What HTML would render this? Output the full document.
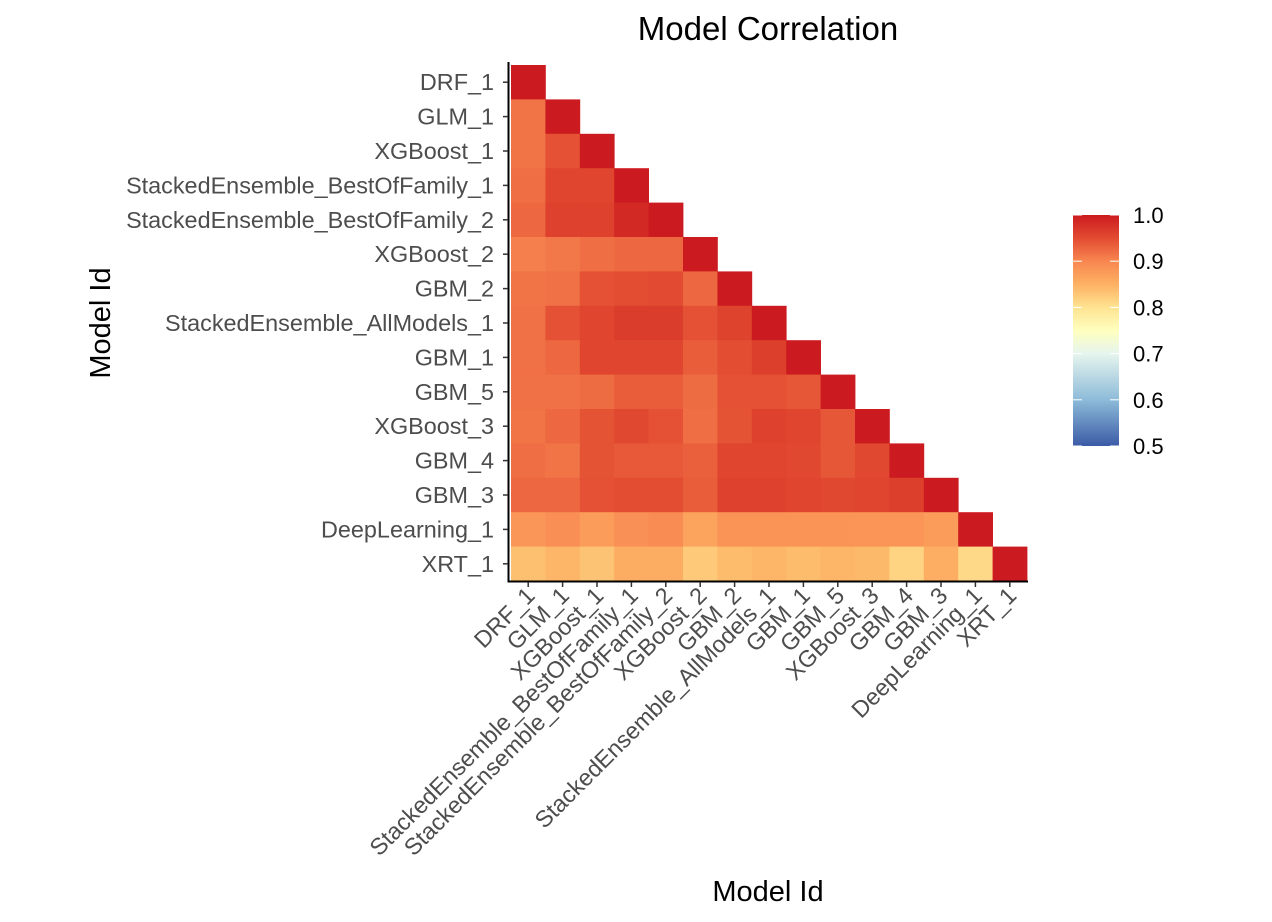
<!DOCTYPE html>
<html><head><meta charset="utf-8">
<style>
html,body{margin:0;padding:0;background:#fff;}
svg{display:block;font-family:"Liberation Sans",Arial,sans-serif;}
</style></head>
<body>
<svg id="chart" width="1272" height="922" viewBox="0 0 1272 922" xmlns="http://www.w3.org/2000/svg">
<defs>
<linearGradient id="lg" x1="0" y1="1" x2="0" y2="0">
<stop offset="0" stop-color="#3b5ba6"/>
<stop offset="0.2" stop-color="#8dbbd9"/>
<stop offset="0.4" stop-color="#e6f5ee"/>
<stop offset="0.5" stop-color="#ffffbf"/>
<stop offset="0.6" stop-color="#fee391"/>
<stop offset="0.7" stop-color="#fdb163"/>
<stop offset="0.8" stop-color="#f88650"/>
<stop offset="0.9" stop-color="#e24b31"/>
<stop offset="1" stop-color="#cc1b20"/>
</linearGradient>
</defs>
<text x="768" y="40" font-size="33" text-anchor="middle" fill="#000">Model Correlation</text>
<g id="cells"></g>
<g id="axes"></g>
<text x="768" y="901" font-size="29" text-anchor="middle" fill="#000">Model Id</text>
<text transform="translate(110,323) rotate(-90)" font-size="29" text-anchor="middle" fill="#000">Model Id</text>
<g>
<rect x="1073" y="215" width="46" height="231" fill="url(#lg)"/>
<g id="legend-ticks"></g>
</g>
</svg>
<script>
const models = ["DRF_1","GLM_1","XGBoost_1","StackedEnsemble_BestOfFamily_1","StackedEnsemble_BestOfFamily_2","XGBoost_2","GBM_2","StackedEnsemble_AllModels_1","GBM_1","GBM_5","XGBoost_3","GBM_4","GBM_3","DeepLearning_1","XRT_1"];
// lower-triangle correlations (row i, columns 0..i-1); diagonal = 1
const corrRows = [
 [],
 [0.915],
 [0.915,0.945],
 [0.92,0.955,0.955],
 [0.925,0.96,0.96,0.985],
 [0.905,0.912,0.92,0.925,0.925],
 [0.915,0.918,0.945,0.948,0.95,0.925],
 [0.918,0.945,0.955,0.965,0.965,0.945,0.958],
 [0.918,0.925,0.955,0.955,0.955,0.935,0.948,0.962],
 [0.918,0.918,0.922,0.935,0.935,0.922,0.945,0.945,0.94],
 [0.915,0.925,0.943,0.953,0.945,0.92,0.943,0.96,0.955,0.94],
 [0.92,0.915,0.943,0.938,0.938,0.932,0.955,0.955,0.953,0.94,0.953],
 [0.925,0.925,0.945,0.948,0.948,0.935,0.96,0.96,0.955,0.953,0.955,0.962],
 [0.88,0.89,0.875,0.888,0.893,0.865,0.885,0.885,0.885,0.885,0.882,0.882,0.875],
 [0.835,0.845,0.832,0.855,0.855,0.825,0.84,0.845,0.84,0.845,0.842,0.815,0.853,0.81]
];
const legendTicks = [0.5,0.6,0.7,0.8,0.9,1.0];
const legendLabels = ["0.5","0.6","0.7","0.8","0.9","1.0"];

const NS="http://www.w3.org/2000/svg";
const x0=511, y0=65, cell=34.4, n=models.length;
const xPos=i=>x0+i*cell, yPos=i=>y0+i*cell;
const stops=[[0.5,"#3b5ba6"],[0.6,"#8dbbd9"],[0.7,"#e6f5ee"],[0.75,"#ffffbf"],[0.8,"#fee391"],[0.85,"#fdb163"],[0.9,"#f88650"],[0.95,"#e24b31"],[1.0,"#cc1b20"]];
function hex(h){return [1,3,5].map(k=>parseInt(h.substr(k,2),16));}
function color(v){
  v=Math.max(0.5,Math.min(1,v));
  for(let k=0;k<stops.length-1;k++){
    const [a,ca]=stops[k],[b,cb]=stops[k+1];
    if(v<=b){const t=(v-a)/(b-a);const A=hex(ca),B=hex(cb);
      return "rgb("+A.map((c,j)=>Math.round(c+(B[j]-c)*t)).join(",")+")";}
  }
  return stops[stops.length-1][1];
}
function mk(tag,attrs,parent){const e=document.createElementNS(NS,tag);for(const k in attrs)e.setAttribute(k,attrs[k]);parent.appendChild(e);return e;}
const cg=document.getElementById('cells');
for(let r=0;r<n;r++){
  const vals=corrRows[r].concat([1]);
  for(let c=0;c<vals.length;c++){
    const rc=mk('rect',{x:xPos(c),y:yPos(r),width:cell+0.4,height:cell+0.4,fill:color(vals[c])},cg);
    
    
  }
}
const ag=document.getElementById('axes');
const yl=mk('line',{x1:508.5,y1:62,x2:508.5,y2:582,stroke:"#000","stroke-width":2},ag);


const xl=mk('line',{x1:507.5,y1:581.5,x2:1028,y2:581.5,stroke:"#000","stroke-width":2},ag);


for(let i=0;i<n;i++){
  const cy=yPos(i)+cell/2, cx=xPos(i)+cell/2;
  mk('line',{x1:503,y1:cy,x2:508,y2:cy,stroke:"#333","stroke-width":1.5},ag);
  mk('line',{x1:cx,y1:582,x2:cx,y2:587,stroke:"#333","stroke-width":1.5},ag);
  const t=mk('text',{x:494,y:cy+8,"font-size":23.4,"text-anchor":"end",fill:"#4d4d4d"},ag);
  t.textContent=models[i];
  
  
  const u=mk('text',{transform:"translate("+(cx+8)+",597) rotate(-45)","font-size":23.4,"text-anchor":"end",fill:"#4d4d4d"},ag);
  u.textContent=models[i];
  
  
}
const lg=document.getElementById('legend-ticks');
const ly=v=>446-(v-0.5)/0.5*231;
legendTicks.forEach((v,i)=>{
  const y=ly(v);
  mk('line',{x1:1073,y1:y,x2:1082,y2:y,stroke:"#fff","stroke-width":1},lg);
  mk('line',{x1:1110,y1:y,x2:1119,y2:y,stroke:"#fff","stroke-width":1},lg);
  const t=mk('text',{x:1133,y:y+8,"font-size":22,fill:"#000"},lg);
  t.textContent=legendLabels[i];
  
  
});
</script>
</body></html>
